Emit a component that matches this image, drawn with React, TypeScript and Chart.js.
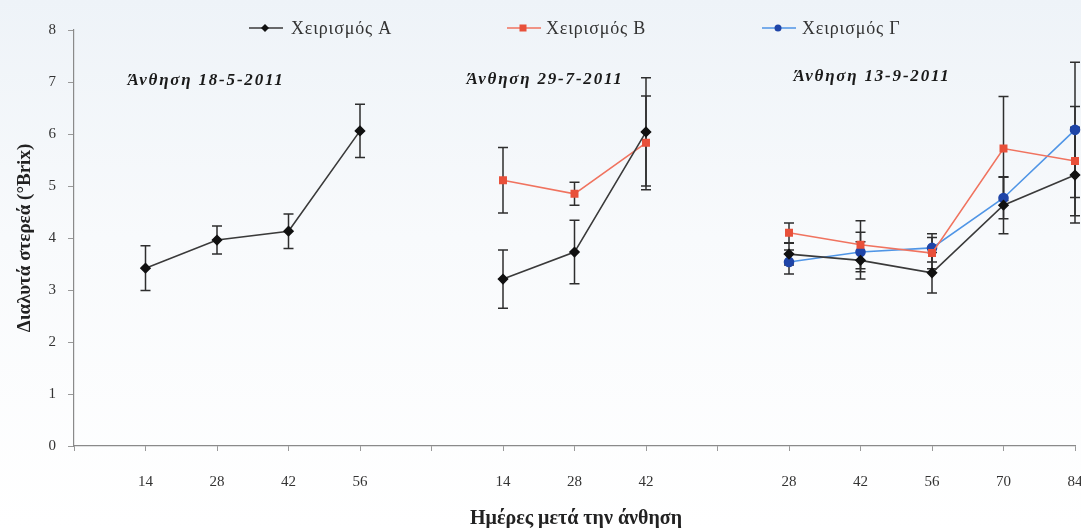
import React, { useEffect, useRef } from 'react';
import { Chart, registerables } from 'chart.js';

Chart.register(...registerables);

// ---- data ----
const dayLabels = ['', '14', '28', '42', '56', '', '14', '28', '42', '', '28', '42', '56', '70', '84'];
const seriesNames = ['Χειρισμός Α', 'Χειρισμός Β', 'Χειρισμός Γ'];
const valuesA = [null, 3.42, 3.96, 4.13, 6.06, null, 3.21, 3.73, 6.04, null, 3.69, 3.57, 3.33, 4.63, 5.21];
const errorsA = [null, 0.43, 0.27, 0.33, 0.51, null, 0.56, 0.61, 1.04, null, 0.21, 0.36, 0.39, 0.55, 0.92];
const valuesB = [null, null, null, null, null, null, 5.11, 4.85, 5.83, null, 4.1, 3.87, 3.71, 5.72, 5.48];
const errorsB = [null, null, null, null, null, null, 0.63, 0.22, 0.9, null, 0.19, 0.46, 0.3, 1.0, 1.05];
const valuesC = [null, null, null, null, null, null, null, null, null, null, 3.54, 3.73, 3.81, 4.77, 6.08];
const errorsC = [null, null, null, null, null, null, null, null, null, null, 0.23, 0.38, 0.27, 0.4, 1.3];
const floweringNotes = ['Άνθηση 18-5-2011', 'Άνθηση 29-7-2011', 'Άνθηση 13-9-2011'];
const yTitle = 'Διαλυτά στερεά (°Brix)';
const xTitle = 'Ημέρες μετά την άνθηση';

const SERIF = '"Liberation Serif", "Times New Roman", serif';

const errorBarPlugin = {
  id: 'errorBars',
  beforeDatasetsDraw(chart: any) {
    const ctx = chart.ctx;
    const y = chart.scales.y;
    ctx.save();
    ctx.strokeStyle = '#2e2e2e';
    ctx.lineWidth = 1.5;
    chart.data.datasets.forEach((ds: any, i: number) => {
      const meta = chart.getDatasetMeta(i);
      ds.data.forEach((v: any, j: number) => {
        const e = ds.errors[j];
        if (v == null || e == null) return;
        const px = meta.data[j].x;
        const top = y.getPixelForValue(v + e);
        const bot = y.getPixelForValue(v - e);
        ctx.beginPath();
        ctx.moveTo(px, top);
        ctx.lineTo(px, bot);
        ctx.moveTo(px - 5, top);
        ctx.lineTo(px + 5, top);
        ctx.moveTo(px - 5, bot);
        ctx.lineTo(px + 5, bot);
        ctx.stroke();
      });
    });
    ctx.restore();
  },
};

const decorPlugin = {
  id: 'decor',
  beforeDraw(chart: any) {
    const ctx = chart.ctx;
    const g = ctx.createLinearGradient(0, 0, 0, chart.height);
    g.addColorStop(0, '#eef3f8');
    g.addColorStop(0.45, '#f8fafc');
    g.addColorStop(1, '#ffffff');
    ctx.save();
    ctx.fillStyle = g;
    ctx.fillRect(0, 0, chart.width, chart.height);
    ctx.restore();
  },
  afterDraw(chart: any) {
    const ctx = chart.ctx;
    ctx.save();
    // legend
    const items = [
      { lx: 249, tx: 291, ds: chart.data.datasets[0] },
      { lx: 507, tx: 546, ds: chart.data.datasets[1] },
      { lx: 762, tx: 802, ds: chart.data.datasets[2] },
    ];
    const ly = 28;
    items.forEach((it, k) => {
      ctx.strokeStyle = it.ds.borderColor;
      ctx.lineWidth = 1.5;
      ctx.beginPath();
      ctx.moveTo(it.lx, ly);
      ctx.lineTo(it.lx + 34, ly);
      ctx.stroke();
      ctx.fillStyle = it.ds.pointBackgroundColor;
      const cx = it.lx + 16;
      if (k === 0) {
        ctx.beginPath();
        ctx.moveTo(cx, ly - 4);
        ctx.lineTo(cx + 4, ly);
        ctx.lineTo(cx, ly + 4);
        ctx.lineTo(cx - 4, ly);
        ctx.closePath();
        ctx.fill();
      } else if (k === 1) {
        ctx.fillRect(cx - 3.5, ly - 3.5, 7, 7);
      } else {
        ctx.beginPath();
        ctx.arc(cx, ly, 3.5, 0, Math.PI * 2);
        ctx.fill();
      }
      ctx.fillStyle = '#333';
      ctx.font = `18px ${SERIF}`;
      (ctx as any).letterSpacing = '0.8px';
      ctx.textAlign = 'left';
      ctx.textBaseline = 'middle';
      ctx.fillText(seriesNames[k], it.tx, ly + 1);
    });
    // flowering notes
    ctx.font = `bold italic 17px ${SERIF}`;
    (ctx as any).letterSpacing = '1.8px';
    ctx.fillStyle = '#1a1a1a';
    ctx.textAlign = 'center';
    ctx.textBaseline = 'middle';
    const notePos = [
      [206, 81],
      [545, 80],
      [872, 77],
    ];
    floweringNotes.forEach((t, i) => {
      ctx.fillText(t, notePos[i][0], notePos[i][1]);
    });
    (ctx as any).letterSpacing = '0px';
    // axis titles
    ctx.font = `bold 20px ${SERIF}`;
    ctx.fillStyle = '#222';
    ctx.fillText(xTitle, 576, 519);
    ctx.font = `bold 19px ${SERIF}`;
    ctx.translate(25, 238);
    ctx.rotate(-Math.PI / 2);
    ctx.fillText(yTitle, 0, 0);
    ctx.restore();
  },
};

export default function App() {
  const ref = useRef<HTMLCanvasElement | null>(null);
  useEffect(() => {
    document.body.style.margin = '0';
    const canvas = ref.current!;
    const chart = new Chart(canvas, {
      type: 'line',
      data: {
        labels: dayLabels,
        datasets: [
          {
            label: seriesNames[0],
            data: valuesA,
            errors: errorsA,
            borderColor: '#3a3a3a',
            backgroundColor: '#111',
            pointBackgroundColor: '#111',
            pointBorderColor: '#111',
            pointStyle: 'rectRot',
            pointRadius: 4.5,
            borderWidth: 1.6,
            spanGaps: false,
          } as any,
          {
            label: seriesNames[1],
            data: valuesB,
            errors: errorsB,
            borderColor: '#f0735f',
            backgroundColor: '#e8503a',
            pointBackgroundColor: '#e8503a',
            pointBorderColor: '#e8503a',
            pointStyle: 'rect',
            pointRadius: 4.5,
            borderWidth: 1.6,
            spanGaps: false,
          } as any,
          {
            label: seriesNames[2],
            data: valuesC,
            errors: errorsC,
            borderColor: '#4f95e6',
            backgroundColor: '#1f45a8',
            pointBackgroundColor: '#1f45a8',
            pointBorderColor: '#1f45a8',
            pointStyle: 'circle',
            pointRadius: 4.5,
            borderWidth: 1.6,
            spanGaps: false,
          } as any,
        ],
      },
      options: {
        responsive: false,
        animation: false,
        clip: false,
        layout: { autoPadding: false, padding: { top: 30, right: 6, left: 0, bottom: 0 } },
        plugins: { legend: { display: false }, tooltip: { enabled: false } },
        elements: { line: { tension: 0 } },
        scales: {
          x: {
            type: 'category',
            offset: false,
            grid: { drawOnChartArea: false, drawTicks: true, tickLength: 5, color: '#999' },
            border: { color: '#8a8a8a', width: 1.2 },
            ticks: {
              autoSkip: false,
              maxRotation: 0,
              padding: 22,
              color: '#333',
              font: { family: SERIF, size: 15 },
            },
            afterFit(scale: any) {
              scale.height = 82;
              scale.paddingLeft = 0;
              scale.paddingRight = 0;
            },
          },
          y: {
            min: 0,
            max: 8,
            ticks: {
              stepSize: 1,
              padding: 12,
              color: '#333',
              font: { family: SERIF, size: 15 },
            },
            grid: { drawOnChartArea: false, drawTicks: true, tickLength: 6, color: '#999' },
            border: { color: '#8a8a8a', width: 1.2 },
            afterFit(scale: any) {
              scale.width = 74;
              scale.paddingTop = 0;
              scale.paddingBottom = 0;
            },
          },
        },
      } as any,
      plugins: [errorBarPlugin, decorPlugin],
    });
    return () => chart.destroy();
  }, []);
  return (
    <div style={{ width: 1081, height: 528 }}>
      <canvas ref={ref} width={1081} height={528} style={{ display: 'block' }} />
    </div>
  );
}
